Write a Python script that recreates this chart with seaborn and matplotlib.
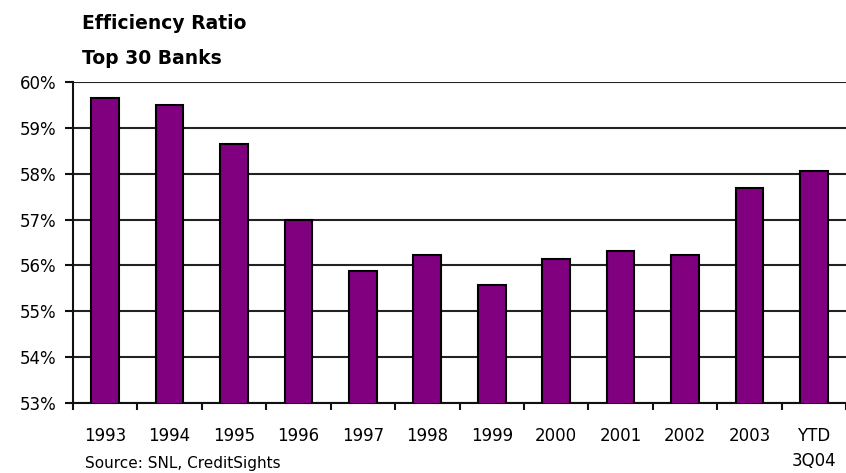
import matplotlib
matplotlib.use("Agg")
import matplotlib.pyplot as plt
import seaborn as sns
import pandas as pd
import numpy as np
from matplotlib.ticker import FuncFormatter, FixedLocator

### data
years = ["1993", "1994", "1995", "1996", "1997", "1998", "1999",
         "2000", "2001", "2002", "2003", "YTD\n3Q04"]
ratio = [59.65, 59.49, 58.65, 56.99, 55.88, 56.22, 55.57,
         56.13, 56.31, 56.22, 57.69, 58.07]

df = pd.DataFrame({"year": years, "ratio": ratio})

sns.set_style("white")
plt.rcParams["font.family"] = ["DejaVu Sans"]
plt.rcParams["text.color"] = "black"
plt.rcParams["xtick.color"] = "black"
plt.rcParams["ytick.color"] = "black"

fig = plt.figure(figsize=(8.46, 4.73), dpi=100)
ax = fig.add_axes([0.0863, 0.148, 0.9137, 0.6786])

sns.barplot(data=df, x="year", y="ratio", color="#800080", saturation=1,
            edgecolor="black", linewidth=1.5, width=0.43, ax=ax, zorder=3)

### axis range and gridlines
ax.set_ylim(53, 60)
ax.set_xlim(-0.5, len(years) - 0.5)
ax.set_yticks(np.arange(53, 61, 1))
ax.yaxis.set_major_formatter(FuncFormatter(lambda v, p: "%d%%" % v))
ax.grid(axis="y", color="#222222", linewidth=1.5, zorder=0)
ax.set_axisbelow(True)

for s in ["top", "right"]:
    ax.spines[s].set_visible(False)
for s in ["left", "bottom"]:
    ax.spines[s].set_color("#111111")
    ax.spines[s].set_linewidth(1.5)

ax.set_xlabel("")
ax.set_ylabel("")

### ticks: labels at centres, tick marks between categories
ax.tick_params(axis="x", which="major", length=0, pad=17, labelsize=12,
               labelcolor="black")
ax.xaxis.set_minor_locator(FixedLocator(np.arange(-0.5, len(years), 1)))
ax.tick_params(axis="x", which="minor", length=5, width=1.5, direction="out",
               color="#111111", bottom=True)
ax.tick_params(axis="y", length=6, width=1.5, direction="out", color="#111111",
               labelsize=12, labelcolor="black", pad=6, left=True)
for lbl in ax.get_xticklabels():
    lbl.set_linespacing(1.5)
    lbl.set_verticalalignment("top")

### titles and source
fig.text(0.097, 0.951, "Efficiency Ratio", fontsize=13.5, fontweight="bold",
         va="center", ha="left", color="black")
fig.text(0.097, 0.877, "Top 30 Banks", fontsize=13.5, fontweight="bold",
         va="center", ha="left", color="black")
fig.text(0.101, 0.021, "Source: SNL, CreditSights", fontsize=11,
         va="center", ha="left", color="black")

fig.savefig("out.png", dpi=100)
